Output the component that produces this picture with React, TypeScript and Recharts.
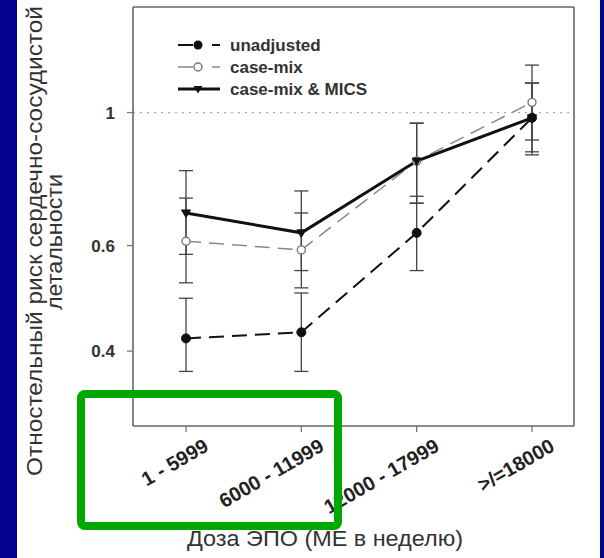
import React from 'react';
import { LineChart, Line, XAxis, YAxis, ErrorBar, ReferenceLine, Legend, CartesianGrid } from 'recharts';

const categories = ['1 - 5999', '6000 - 11999', '12000 - 17999', '>/=18000'];
const seriesNames = ['unadjusted', 'case-mix', 'case-mix & MICS'];

const unadjusted = [0.42, 0.43, 0.63, 0.98];
const unadjustedLow = [0.37, 0.37, 0.545, 0.85];
const unadjustedHigh = [0.49, 0.5, 0.725, 1.12];

const caseMix = [0.61, 0.59, 0.83, 1.04];
const caseMixLow = [0.52, 0.51, 0.706, 0.9];
const caseMixHigh = [0.72, 0.68, 0.96, 1.2];

const mics = [0.68, 0.63, 0.83, 0.98];
const micsLow = [0.58, 0.545, 0.706, 0.86];
const micsHigh = [0.8, 0.74, 0.96, 1.12];

const yTicks = [0.4, 0.6, 1];
const yDomain = [0.3, 1.5];
const yLabelLines = ['Отностельный риск сердечно-сосудистой', 'летальности'];
const xLabel = 'Доза ЭПО (МЕ в неделю)';

const FONT = '"Liberation Sans", Arial, Helvetica, sans-serif';

const data = categories.map((cat, i) => ({
  cat,
  unadjusted: unadjusted[i],
  unadjustedErr: [unadjusted[i] - unadjustedLow[i], unadjustedHigh[i] - unadjusted[i]],
  caseMix: caseMix[i],
  caseMixErr: [caseMix[i] - caseMixLow[i], caseMixHigh[i] - caseMix[i]],
  mics: mics[i],
  micsErr: [mics[i] - micsLow[i], micsHigh[i] - mics[i]],
}));

const filledDot = (p: any) => (
  <circle key={`u${p.index}`} cx={p.cx} cy={p.cy} r={4.5} fill="#111" stroke="#111" />
);
const openDot = (p: any) => (
  <circle key={`c${p.index}`} cx={p.cx} cy={p.cy} r={4} fill="#fff" stroke="#777" strokeWidth={1.4} />
);
const triDot = (p: any) => (
  <path
    key={`m${p.index}`}
    d={`M${p.cx - 4.5},${p.cy - 3} L${p.cx + 4.5},${p.cy - 3} L${p.cx},${p.cy + 4.5} Z`}
    fill="#111"
    stroke="#111"
  />
);

const XTick = (props: any) => {
  const { x, y, payload } = props;
  const ax = x + 24;
  const ay = y + 16;
  return (
    <text
      x={ax}
      y={ay}
      textAnchor="end"
      transform={`rotate(-30, ${ax}, ${ay})`}
      fontSize={20}
      fontWeight="bold"
      fill="#222"
      fontFamily={FONT}
    >
      {payload.value}
    </text>
  );
};

const YLabel = () => (
  <g>
    <text
      transform="translate(42, 241) rotate(-90)"
      textAnchor="middle"
      fontSize={22}
      fill="#333"
      fontFamily={FONT}
      textLength={470}
      lengthAdjust="spacingAndGlyphs"
    >
      {yLabelLines[0]}
    </text>
    <text
      transform="translate(62, 242) rotate(-90)"
      textAnchor="middle"
      fontSize={22}
      fill="#333"
      fontFamily={FONT}
      textLength={136}
      lengthAdjust="spacingAndGlyphs"
    >
      {yLabelLines[1]}
    </text>
  </g>
);

const XLabel = () => (
  <text
    x={325}
    y={546}
    textAnchor="middle"
    fontSize={22}
    fill="#333"
    fontFamily={FONT}
    textLength={276}
    lengthAdjust="spacingAndGlyphs"
  >
    {xLabel}
  </text>
);

const legendStyles = [
  { stroke: '#111', width: 2, dash: '15 19', marker: 'filled' },
  { stroke: '#888', width: 1.5, dash: '15 19', marker: 'open' },
  { stroke: '#111', width: 3, dash: undefined, marker: 'tri' },
];

const LegendContent = () => (
  <svg width={260} height={80} style={{ display: 'block' }}>
    {seriesNames.map((name, i) => {
      const s = legendStyles[i];
      const y = 15 + i * 22;
      return (
        <g key={name}>
          <line x1={8} y1={y} x2={50} y2={y} stroke={s.stroke} strokeWidth={s.width} strokeDasharray={s.dash} />
          {s.marker === 'filled' && <circle cx={28} cy={y} r={4.5} fill="#111" />}
          {s.marker === 'open' && <circle cx={28} cy={y} r={4} fill="#fff" stroke="#777" strokeWidth={1.4} />}
          {s.marker === 'tri' && (
            <path d={`M${23.5},${y - 3} L${32.5},${y - 3} L${28},${y + 4.5} Z`} fill="#111" />
          )}
          <text x={60} y={y + 6} fontSize={17} fontWeight="bold" fill="#333" fontFamily={FONT}>
            {name}
          </text>
        </g>
      );
    })}
  </svg>
);

export default function App() {
  return (
    <div style={{ position: 'absolute', left: 0, top: 0, width: 604, height: 558, background: '#03038f', overflow: 'hidden' }}>
      <div style={{ position: 'absolute', left: 17, top: 0, width: 583, height: 558, background: '#ffffff' }} />
      <div style={{ position: 'absolute', left: 0, top: 0 }}>
        <LineChart width={604} height={558} data={data} margin={{ top: 7, right: 30, bottom: 72, left: 73 }}>
          <CartesianGrid
            stroke="#666"
            strokeWidth={1.6}
            horizontalCoordinatesGenerator={(p: any) => [p.offset.top]}
            verticalCoordinatesGenerator={(p: any) => [p.offset.left + p.offset.width]}
          />
          <XAxis
            dataKey="cat"
            type="category"
            padding={{ left: 53, right: 42 }}
            height={60}
            tickSize={6}
            tickLine={{ stroke: '#777', strokeWidth: 1.3 }}
            axisLine={{ stroke: '#666', strokeWidth: 1.6 }}
            tick={<XTick />}
            interval={0}
            label={() => <XLabel />}
          />
          <YAxis
            type="number"
            scale="log"
            domain={yDomain}
            allowDataOverflow
            ticks={yTicks}
            width={60}
            tickSize={6}
            tickMargin={12}
            tickLine={{ stroke: '#777', strokeWidth: 1.3 }}
            axisLine={{ stroke: '#666', strokeWidth: 1.6 }}
            tick={{ fontSize: 17, fontWeight: 'bold', fill: '#333', fontFamily: FONT }}
            label={() => <YLabel />}
          />
          <ReferenceLine y={1} stroke="#aaa" strokeWidth={1.2} strokeDasharray="2 5" />
          <Legend
            layout="horizontal"
            align="center"
            verticalAlign="middle"
            content={() => <LegendContent />}
            wrapperStyle={{ left: 170, top: 30, width: 260, height: 80 }}
          />
          <Line
            dataKey="unadjusted"
            name={seriesNames[0]}
            stroke="#111"
            strokeWidth={2}
            strokeDasharray="15 8"
            dot={filledDot}
            isAnimationActive={false}
          >
            <ErrorBar dataKey="unadjustedErr" width={7} stroke="#444" strokeWidth={1.3} direction="y" />
          </Line>
          <Line
            dataKey="caseMix"
            name={seriesNames[1]}
            stroke="#888"
            strokeWidth={1.5}
            strokeDasharray="15 8"
            dot={openDot}
            isAnimationActive={false}
          >
            <ErrorBar dataKey="caseMixErr" width={7} stroke="#444" strokeWidth={1.3} direction="y" />
          </Line>
          <Line
            dataKey="mics"
            name={seriesNames[2]}
            stroke="#111"
            strokeWidth={3}
            dot={triDot}
            isAnimationActive={false}
          >
            <ErrorBar dataKey="micsErr" width={7} stroke="#444" strokeWidth={1.3} direction="y" />
          </Line>
        </LineChart>
      </div>
      <svg width={604} height={558} style={{ position: 'absolute', left: 0, top: 0, pointerEvents: 'none' }}>
        <rect x={81} y={394} width={257} height={132} rx={4} ry={4} fill="none" stroke="#00a800" strokeWidth={8} />
      </svg>
    </div>
  );
}
